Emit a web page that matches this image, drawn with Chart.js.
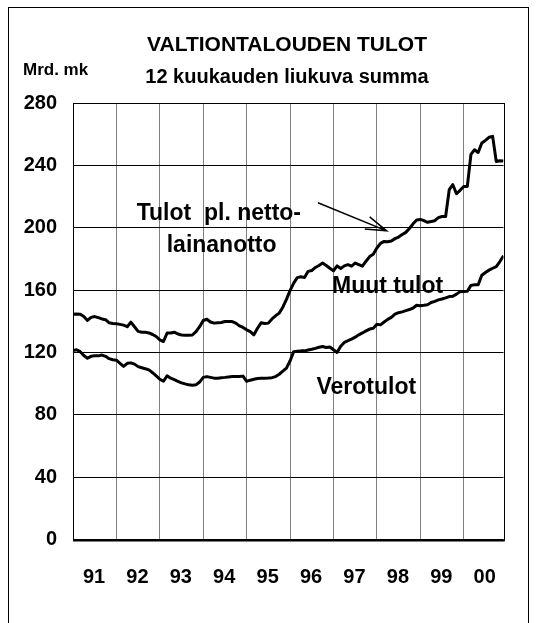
<!DOCTYPE html>
<html>
<head>
<meta charset="utf-8">
<script src="https://cdn.jsdelivr.net/npm/chart.js@4.4.0/dist/chart.umd.min.js"></script>
<style>
  html, body { margin: 0; padding: 0; background: #fff; }
  #wrap { position: relative; width: 536px; height: 623px; }
</style>
</head>
<body>
<div id="wrap"><canvas id="chart" width="536" height="623"></canvas></div>
<script>
// Data: monthly 12-month moving sums, Jan 1991 .. Dec 2000 (Mrd. mk)
const years = ['91', '92', '93', '94', '95', '96', '97', '98', '99', '00'];
const yTicks = [0, 40, 80, 120, 160, 200, 240, 280];

const tulot = [
  144.5, 144.6, 144.5, 143, 140.5, 142.5, 143, 142.3, 141.5, 141, 139, 138.5,
  138.4, 138, 137.5, 136.5, 139.4, 136.5, 133.5, 133, 133, 132.5, 131.5, 130.2,
  128, 127, 132.4, 132.5, 133, 131.8, 131.2, 131, 131, 131.2, 133.4, 136.5,
  140.5, 141.3, 139.5, 138.8, 139, 139.2, 139.8, 139.8, 139.8, 138.8, 137, 136,
  134.5, 133.4, 131.3, 135.5, 139, 138.5, 138.8, 141.5, 143.5, 145.2, 149, 154,
  159.7, 164.5, 168, 168.5, 168, 172, 172.5, 174.5, 175.8, 177.3, 175.8, 174,
  172.3, 175.5, 173.8, 175.5, 176.3, 175.3, 177.3, 176.3, 175.3, 178.5, 181.5, 183,
  187, 190, 191.2, 191, 191.5, 193, 194, 195.6, 197, 199.5, 202.5, 205,
  205.3, 204.5, 203.5, 204, 204.5, 206.5, 207.2, 207.2, 224.4, 227.6, 221.8, 224,
  226.5, 226.5, 247, 250, 248.3, 254.4, 256, 258, 258.6, 242.5, 243, 242.8
];

const verotulot = [
  121.2, 121.7, 120.5, 118, 116.3, 117.5, 117.8, 117.8, 118.3, 117.5, 116, 115.3,
  115, 113, 111, 113, 113.3, 112.5, 110.9, 110.2, 109.5, 108.8, 107, 105,
  102.8, 101.5, 105, 103.5, 102.5, 101.5, 100.5, 99.8, 99.2, 99, 99.2, 101,
  104, 104.5, 104, 103.5, 103.5, 103.8, 104, 104.3, 104.5, 104.5, 104.5, 104.8,
  101.5, 102.2, 102.8, 103.3, 103.5, 103.5, 103.6, 103.8, 104.5, 106, 108, 110,
  114.5, 120.5, 120.8, 121, 121, 121.5, 122, 122.6, 123.3, 123.8, 123.2, 123.5,
  121.7, 120, 124, 126.4, 127.5, 128.5, 129.8, 131.3, 132.5, 133.8, 135, 135.5,
  138, 137.7, 139.5, 141.2, 142.5, 144.5, 145.5, 146, 146.8, 147.5, 148.5, 150.3,
  150, 150.2, 150.6, 152, 152.8, 153.7, 154.3, 155, 155.8, 156, 157.4, 159,
  159.1, 159.2, 163, 163.4, 163.4, 169.5, 171.3, 172.8, 174, 175.1, 178.3, 182
];

const FONT = '"Liberation Sans", Arial, sans-serif';

// Labels placed in data coordinates (month index, value)
const notes = [
  { text: 'Tulot  pl. netto-', x: 17.6, y: 205 },
  { text: 'lainanotto', x: 25.9, y: 184.6 },
  { text: 'Muut tulot', x: 71.6, y: 158 },
  { text: 'Verotulot', x: 67.3, y: 93.4 }
];
const arrow = { from: [67.7, 216], to: [86.7, 198] };

const extras = {
  id: 'extras',
  beforeDatasetsDraw(chart) {
    const { ctx, chartArea: a } = chart;
    ctx.save();
    ctx.strokeStyle = '#000';
    ctx.lineWidth = 1;
    ctx.strokeRect(Math.round(a.left) + 0.5, Math.round(a.top) + 0.5,
      Math.round(a.right - a.left), Math.round(a.bottom - a.top));
    ctx.lineWidth = 2;
    ctx.beginPath();
    ctx.moveTo(a.left, Math.round(a.bottom) + 0.5);
    ctx.lineTo(a.right + 1, Math.round(a.bottom) + 0.5);
    ctx.stroke();
    ctx.restore();
  },
  afterDraw(chart) {
    const { ctx } = chart;
    const xs = chart.scales.x, ys = chart.scales.y;
    ctx.save();
    ctx.fillStyle = '#000';
    ctx.strokeStyle = '#000';

    // outer frame
    ctx.lineWidth = 1;
    ctx.strokeRect(8.5, 7.5, 520, 700);

    // headings
    ctx.textAlign = 'center';
    ctx.textBaseline = 'alphabetic';
    ctx.font = 'bold 21px ' + FONT;
    ctx.fillText('VALTIONTALOUDEN TULOT', 287, 51);
    ctx.font = 'bold 20px ' + FONT;
    ctx.fillText('12 kuukauden liukuva summa', 287, 83);
    ctx.textAlign = 'left';
    ctx.font = 'bold 17px ' + FONT;
    ctx.fillText('Mrd. mk', 23, 75);

    // series labels
    ctx.font = 'bold 23px ' + FONT;
    notes.forEach(n => {
      ctx.fillText(n.text, xs.getPixelForValue(n.x), ys.getPixelForValue(n.y));
    });

    // arrow
    const x1 = xs.getPixelForValue(arrow.from[0]), y1 = ys.getPixelForValue(arrow.from[1]);
    const x2 = xs.getPixelForValue(arrow.to[0]), y2 = ys.getPixelForValue(arrow.to[1]);
    const ang = Math.atan2(y2 - y1, x2 - x1);
    ctx.lineWidth = 1.5;
    ctx.beginPath();
    ctx.moveTo(x1, y1);
    ctx.lineTo(x2, y2);
    ctx.moveTo(x2 - 22 * Math.cos(ang - 0.3), y2 - 22 * Math.sin(ang - 0.3));
    ctx.lineTo(x2, y2);
    ctx.lineTo(x2 - 22 * Math.cos(ang + 0.3), y2 - 22 * Math.sin(ang + 0.3));
    ctx.stroke();
    ctx.restore();
  }
};

const ctx = document.getElementById('chart').getContext('2d');
new Chart(ctx, {
  type: 'line',
  data: {
    datasets: [
      {
        label: 'Tulot pl. nettolainanotto',
        data: tulot.map((v, i) => ({ x: i, y: v })),
        borderColor: '#000',
        borderWidth: 3,
        pointRadius: 0,
        borderJoinStyle: 'round',
        tension: 0
      },
      {
        label: 'Verotulot',
        data: verotulot.map((v, i) => ({ x: i, y: v })),
        borderColor: '#000',
        borderWidth: 3,
        pointRadius: 0,
        borderJoinStyle: 'round',
        tension: 0
      }
    ]
  },
  options: {
    responsive: false,
    animation: false,
    layout: { padding: { top: 103, right: 32.5, bottom: 0, left: 0 } },
    plugins: { legend: { display: false }, tooltip: { enabled: false } },
    scales: {
      x: {
        type: 'linear',
        min: 0,
        max: tulot.length - 1,
        afterBuildTicks: (s) => { s.ticks = years.map((y, i) => ({ value: i * 12 })); },
        afterFit: (s) => { s.height = 83.5; },
        grid: { color: '#808080', lineWidth: 1, drawTicks: false },
        border: { display: false },
        ticks: {
          color: '#000',
          font: { family: FONT, size: 20, weight: 'bold' },
          padding: 26,
          labelOffset: 21,
          maxRotation: 0,
          autoSkip: false,
          callback: (v) => years[Math.round(v / 12)]
        }
      },
      y: {
        min: 0,
        max: 280,
        afterBuildTicks: (s) => { s.ticks = yTicks.map(v => ({ value: v })); },
        afterFit: (s) => { s.width = 73; },
        grid: { color: '#000', lineWidth: 1, drawTicks: false },
        border: { display: false },
        ticks: {
          color: '#000',
          font: { family: FONT, size: 20, weight: 'bold' },
          padding: 16
        }
      }
    }
  },
  plugins: [extras]
});
</script>
</body>
</html>
